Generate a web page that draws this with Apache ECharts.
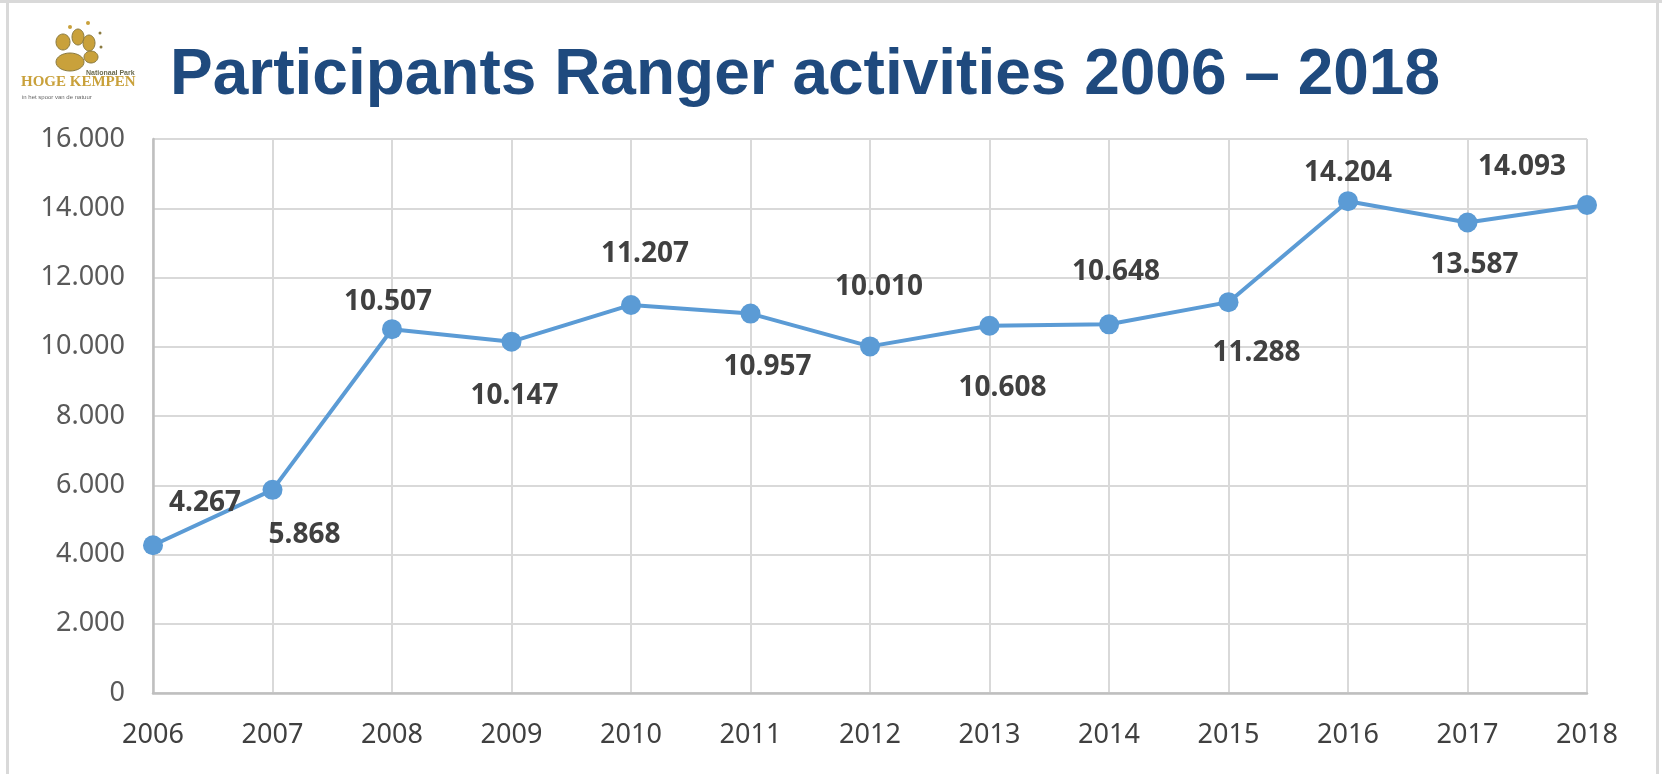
<!DOCTYPE html>
<html>
<head>
<meta charset="utf-8">
<script src="https://cdn.jsdelivr.net/npm/echarts@6/dist/echarts.min.js"></script>
<style>
html,body{margin:0;padding:0;background:#fff;}
#chart{width:1662px;height:774px;}
</style>
</head>
<body>
<div id="chart"></div>
<script>
var titleText = 'Participants Ranger activities 2006 \u2013 2018';
var years = ['2006','2007','2008','2009','2010','2011','2012','2013','2014','2015','2016','2017','2018'];
var participants = [4267, 5868, 10507, 10147, 11207, 10957, 10010, 10608, 10648, 11288, 14204, 13587, 14093];
var yTicks = [0, 2000, 4000, 6000, 8000, 10000, 12000, 14000, 16000];
// label placement (pixels relative to each point)
var labelOffsets = [[52,-42],[32,45],[-4,-27],[3,54],[14,-51],[17,53],[9,-59],[13,62],[7,-52],[28,51],[0,-28],[7,42],[-65,-38]];

function fmt(v){
  return String(v).replace(/\B(?=(\d{3})+(?!\d))/g, '.');
}

var chart = echarts.init(document.getElementById('chart'));
var gold = '#c9a13b';
var dark = '#8a7a40';
var option = {
  backgroundColor: '#ffffff',
  animation: false,
  grid: {left: 153, right: 75, top: 139, bottom: 81},
  xAxis: {
    type: 'category',
    data: years,
    boundaryGap: false,
    axisLine: {show: true, lineStyle: {color: '#bfbfbf', width: 2.5}},
    axisTick: {show: false},
    axisLabel: {color: '#404040', fontFamily: 'Noto Sans', fontSize: 27, margin: 29},
    splitLine: {show: true, lineStyle: {color: '#d9d9d9', width: 2}}
  },
  yAxis: {
    type: 'value',
    min: yTicks[0],
    max: yTicks[yTicks.length - 1],
    interval: yTicks[1] - yTicks[0],
    axisLine: {show: true, lineStyle: {color: '#bfbfbf', width: 2.5}},
    axisTick: {show: false},
    axisLabel: {color: '#595959', fontFamily: 'Noto Sans', fontSize: 27, margin: 28, formatter: function(v){return fmt(v);}},
    splitLine: {show: true, lineStyle: {color: '#d9d9d9', width: 2}}
  },
  series: [{
    type: 'line',
    data: participants.map(function(v, i){
      return {value: v, label: {offset: labelOffsets[i]}};
    }),
    symbol: 'circle',
    symbolSize: 20,
    lineStyle: {color: '#5b9bd5', width: 4},
    itemStyle: {color: '#5b9bd5'},
    label: {
      show: true,
      position: 'inside',
      color: '#404040',
      fontFamily: 'Noto Sans',
      fontWeight: 'bold',
      fontSize: 28,
      formatter: function(p){return fmt(p.value);}
    },
    z: 5
  }],
  graphic: [
    {type: 'rect', shape: {x: 0, y: 0, width: 1662, height: 3}, style: {fill: '#d9d9d9'}},
    {type: 'rect', shape: {x: 6, y: 0, width: 3, height: 774}, style: {fill: '#d9d9d9'}},
    {type: 'rect', shape: {x: 1656, y: 0, width: 3, height: 774}, style: {fill: '#d9d9d9'}},
    {type: 'text', left: 170, top: 44, style: {text: titleText, fill: '#1f4a7e', font: 'bold 64px "Liberation Sans", Arial, sans-serif'}},
    // logo
    {type: 'ellipse', shape: {cx: 70, cy: 62, rx: 14, ry: 9}, style: {fill: gold, stroke: dark, lineWidth: 1}},
    {type: 'ellipse', shape: {cx: 63, cy: 42, rx: 7, ry: 8}, style: {fill: gold, stroke: dark, lineWidth: 1}},
    {type: 'ellipse', shape: {cx: 78, cy: 37, rx: 6, ry: 8}, style: {fill: gold, stroke: dark, lineWidth: 1}},
    {type: 'ellipse', shape: {cx: 89, cy: 43, rx: 6, ry: 8}, style: {fill: gold, stroke: dark, lineWidth: 1}},
    {type: 'ellipse', shape: {cx: 91, cy: 57, rx: 7, ry: 6}, style: {fill: gold, stroke: dark, lineWidth: 1}},
    {type: 'circle', shape: {cx: 70, cy: 27, r: 2}, style: {fill: gold}},
    {type: 'circle', shape: {cx: 88, cy: 23, r: 2}, style: {fill: gold}},
    {type: 'circle', shape: {cx: 100, cy: 33, r: 1.5}, style: {fill: dark}},
    {type: 'circle', shape: {cx: 101, cy: 47, r: 1.5}, style: {fill: dark}},
    {type: 'text', left: 86, top: 70, style: {text: 'Nationaal Park', fill: '#6b6b50', font: 'bold 7px "Liberation Sans", sans-serif'}},
    {type: 'text', left: 21, top: 75, style: {text: 'HOGE KEMPEN', fill: gold, font: 'bold 15px "Liberation Serif", serif'}},
    {type: 'text', left: 22, top: 94, style: {text: 'in het spoor van de natuur', fill: '#666666', font: '6px "Liberation Sans", sans-serif'}}
  ]
};
chart.setOption(option);
</script>
</body>
</html>
